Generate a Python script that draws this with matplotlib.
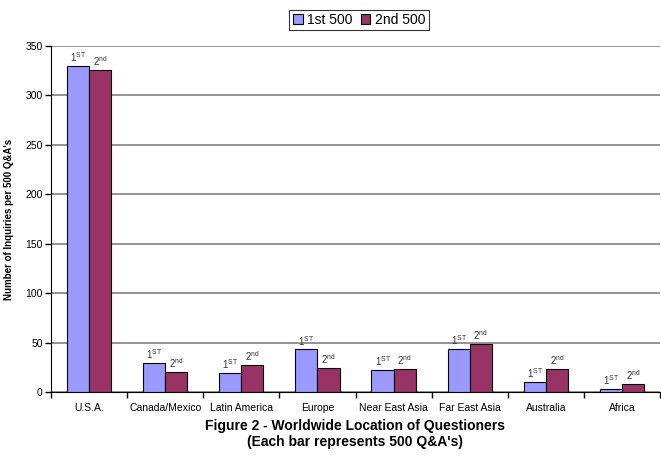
import matplotlib
matplotlib.use("Agg")
import matplotlib.pyplot as plt
import numpy as np

plt.rcParams['font.family'] = ['Liberation Sans', 'DejaVu Sans']
plt.rcParams['mathtext.fontset'] = 'custom'
plt.rcParams['mathtext.rm'] = 'Liberation Sans'

regions = ["U.S.A.", "Canada/Mexico", "Latin America", "Europe",
           "Near East Asia", "Far East Asia", "Australia", "Africa"]
first_500 = [330, 29, 19, 43, 22, 44, 10, 3]
second_500 = [326, 20, 27, 24, 23, 49, 23, 8]
series_names = ["1st 500", "2nd 500"]
y_ticks = [0, 50, 100, 150, 200, 250, 300, 350]

fig = plt.figure(figsize=(6.61, 4.55), dpi=100)
ax = fig.add_axes([51/661, 1 - 392/455, 609/661, 346/455])

x = np.arange(len(regions))
w = 0.29
b1 = ax.bar(x - w/2, first_500, w, color="#9999FF", edgecolor="black",
            linewidth=0.8, label=series_names[0], zorder=3)
b2 = ax.bar(x + w/2, second_500, w, color="#993366", edgecolor="black",
            linewidth=0.8, label=series_names[1], zorder=3)

for xi, v in zip(x - w/2, first_500):
    ax.text(xi, v + 2, r"1$^{\mathrm{ST}}$", ha="center", va="bottom",
            fontsize=7, color="#333333")
for xi, v in zip(x + w/2, second_500):
    ax.text(xi, v + 2, r"2$^{\mathrm{nd}}$", ha="center", va="bottom",
            fontsize=7, color="#333333")

ax.set_xlim(-0.5, len(regions) - 0.5)
ax.set_ylim(0, 350)
ax.set_yticks(y_ticks)
ax.set_yticklabels([str(t) for t in y_ticks], fontsize=7.5)
ax.yaxis.grid(True, color="#808080", linewidth=1.2, zorder=0)
ax.set_axisbelow(True)

ax.set_xticks(x)
ax.set_xticklabels(regions, fontsize=7.5)
ax.tick_params(axis="x", length=0, pad=8)
ax.set_xticks(np.arange(len(regions) + 1) - 0.5, minor=True)
ax.tick_params(axis="x", which="minor", length=4, width=1, direction="out")
ax.tick_params(axis="y", length=4, width=1, direction="out", pad=2)

for s in ["top", "right"]:
    ax.spines[s].set_visible(False)
ax.spines["left"].set_color("black")
ax.spines["bottom"].set_color("black")

ax.set_ylabel("Number of Inquiries per 500 Q&A's", fontsize=7,
              fontweight="bold", labelpad=8)

leg = fig.legend(handles=[b1, b2], labels=series_names, loc="center",
                 bbox_to_anchor=(359/661, 1 - 20/455), ncol=2, fontsize=10,
                 frameon=True, fancybox=False, edgecolor="black",
                 handlelength=0.7, handleheight=0.7, handletextpad=0.3,
                 columnspacing=0.6, borderpad=0.25, borderaxespad=0)
leg.get_frame().set_linewidth(0.8)

fig.text(355/661, 1 - 426/455, "Figure 2 - Worldwide Location of Questioners",
         ha="center", va="center", fontsize=10, fontweight="bold")
fig.text(355/661, 1 - 442/455, "(Each bar represents 500 Q&A's)",
         ha="center", va="center", fontsize=10, fontweight="bold")

fig.savefig("out.png", dpi=100, facecolor="white")
